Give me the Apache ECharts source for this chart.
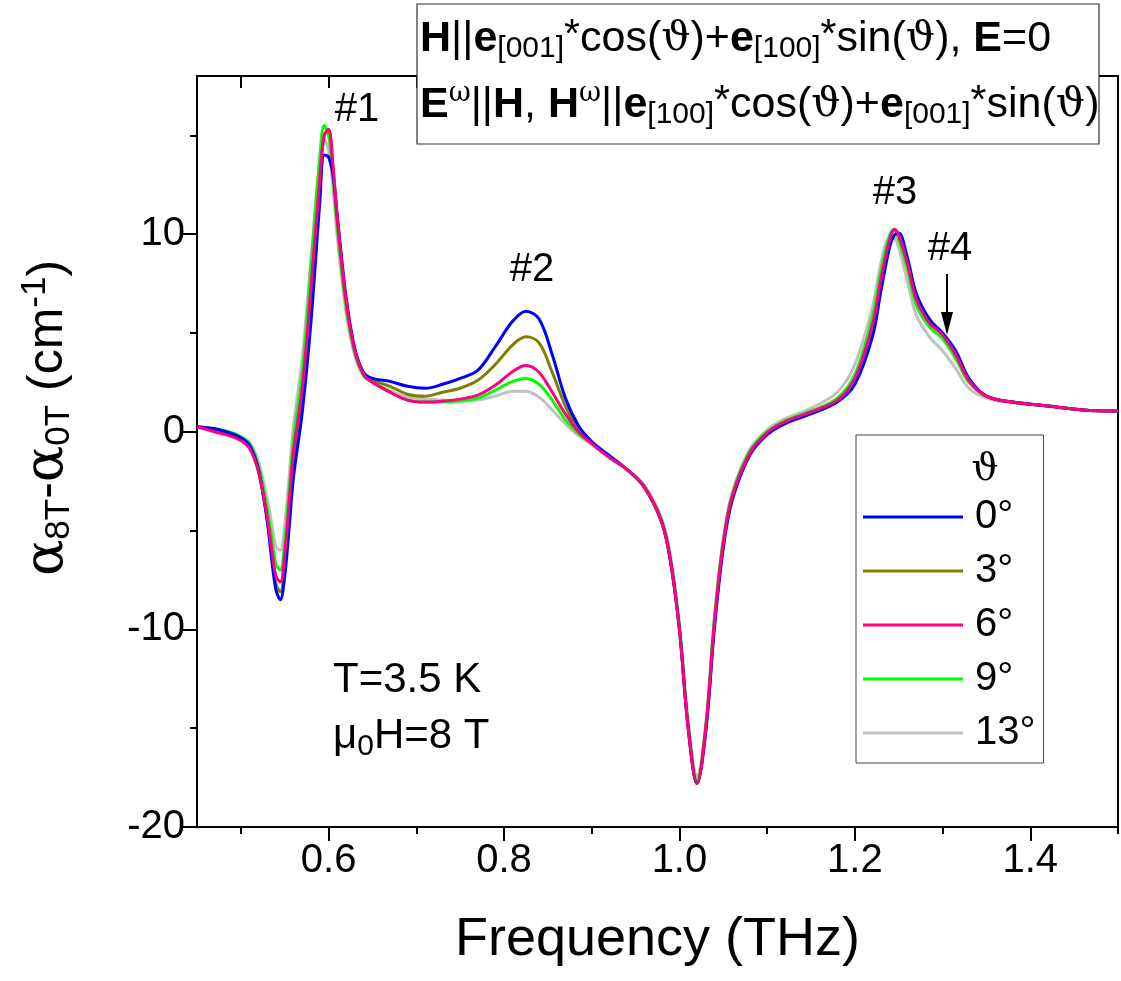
<!DOCTYPE html>
<html>
<head>
<meta charset="utf-8">
<script src="https://cdn.jsdelivr.net/npm/echarts@6/dist/echarts.min.js"></script>
<style>
html,body{margin:0;padding:0;background:#fff;}
#chart{width:1121px;height:981px;}
</style>
</head>
<body>
<div id="chart"></div>
<script>
// ---------- data ----------
const freq = [0.45,0.47,0.49,0.50,0.51,0.52,0.53,0.535,0.54,0.545,0.55,0.555,0.56,0.57,0.58,0.59,0.595,0.60,0.605,0.61,0.62,0.63,0.64,0.65,0.67,0.69,0.71,0.73,0.75,0.77,0.79,0.81,0.825,0.84,0.855,0.87,0.885,0.90,0.92,0.94,0.96,0.98,0.99,1.00,1.01,1.02,1.03,1.04,1.05,1.06,1.08,1.10,1.12,1.15,1.18,1.20,1.22,1.23,1.24,1.245,1.25,1.26,1.27,1.285,1.30,1.315,1.33,1.35,1.38,1.42,1.46,1.50];

const deg0 = [0.25,0.15,-0.1,-0.3,-0.7,-1.9,-4.5,-6.4,-8.0,-8.5,-7.3,-4.9,-2.3,1.0,5.6,11.6,14.0,13.9,13.0,10.9,6.8,4.2,3.0,2.7,2.55,2.3,2.2,2.4,2.7,3.1,4.3,5.6,6.1,5.7,3.9,1.7,0.3,-0.5,-1.2,-1.9,-2.8,-4.6,-6.6,-10.0,-15.0,-17.8,-15.2,-9.9,-5.9,-3.5,-1.2,-0.15,0.4,0.9,1.5,2.4,4.8,7.2,9.4,9.95,10.05,8.8,7.0,5.7,5.0,4.1,2.7,1.8,1.5,1.3,1.1,1.05];

const deg3 = [0.25,0.05,-0.2,-0.4,-0.8,-2.0,-4.4,-6.1,-7.7,-8.1,-6.7,-4.1,-1.4,1.8,7.0,12.8,15.0,15.2,13.3,10.7,6.6,4.1,2.9,2.6,2.3,1.9,1.8,2.0,2.2,2.6,3.4,4.4,4.8,4.5,3.0,1.3,0.1,-0.55,-1.25,-1.9,-2.8,-4.6,-6.6,-10.0,-15.0,-17.8,-15.1,-9.7,-5.7,-3.4,-1.1,-0.1,0.45,0.95,1.55,2.6,5.2,7.6,9.7,10.2,9.9,8.6,6.8,5.6,4.9,3.9,2.6,1.8,1.5,1.3,1.1,1.05];

const deg6 = [0.25,0.0,-0.25,-0.45,-0.85,-2.0,-4.3,-5.9,-7.3,-7.6,-6.2,-3.6,-1.0,2.2,7.3,12.8,15.0,15.3,13.5,10.8,6.6,4.1,2.9,2.5,2.0,1.6,1.5,1.55,1.65,1.85,2.35,3.05,3.35,3.0,2.0,0.9,0.0,-0.6,-1.3,-1.9,-2.8,-4.6,-6.6,-10.0,-15.0,-17.8,-15.0,-9.6,-5.6,-3.3,-1.1,-0.05,0.5,1.0,1.6,2.7,5.4,7.8,9.8,10.25,9.95,8.5,6.7,5.5,4.9,3.9,2.6,1.8,1.5,1.3,1.1,1.05];

const deg9 = [0.25,0.15,-0.05,-0.25,-0.6,-1.7,-3.9,-5.3,-6.7,-7.0,-5.6,-3.0,-0.4,3.0,8.4,13.9,15.5,15.0,12.9,10.3,6.3,4.0,2.85,2.5,2.0,1.6,1.5,1.5,1.55,1.7,2.1,2.55,2.7,2.4,1.6,0.6,-0.1,-0.6,-1.3,-1.9,-2.8,-4.5,-6.5,-9.9,-14.8,-17.6,-14.9,-9.4,-5.5,-3.2,-1.0,0.0,0.55,1.05,1.7,2.9,5.8,8.2,10.0,10.25,9.7,8.2,6.4,5.3,4.7,3.7,2.5,1.8,1.5,1.3,1.1,1.05];

const deg13 = [0.25,0.1,-0.1,-0.25,-0.55,-1.5,-3.4,-4.6,-5.8,-6.0,-4.7,-2.3,0.3,3.7,8.8,13.7,14.8,14.2,12.3,9.8,6.0,3.8,2.8,2.5,2.1,1.75,1.65,1.6,1.55,1.6,1.8,2.05,2.05,1.75,1.1,0.4,-0.2,-0.65,-1.3,-1.9,-2.7,-4.4,-6.3,-9.7,-14.6,-17.4,-14.8,-9.3,-5.4,-3.1,-0.9,0.1,0.65,1.2,2.0,3.4,6.3,8.6,9.85,9.8,9.3,7.6,5.9,4.8,4.1,3.2,2.2,1.7,1.45,1.3,1.1,1.05];

const legendNames = ['0°','3°','6°','9°','13°'];
const xMajorTicks = [0.6,0.8,1.0,1.2,1.4];
const xMinorTicks = [0.5,0.7,0.9,1.1,1.3,1.5];
const xTopTicks = [0.5,0.6,0.7,0.8,0.9,1.0,1.1,1.2,1.3,1.4,1.5];
const yMajorTicks = [-20,-10,0,10];
const yMinorTicks = [-15,-5,5,15];

// ---------- chart ----------
const FF = 'Liberation Sans, Arial, sans-serif';
const chart = echarts.init(document.getElementById('chart'), null, {renderer:'canvas'});
const pairs = v => freq.map((f,i)=>[f, v[i]]);

// draw order: gray, green, olive, blue, pink (pink on top)
const seriesDefs = [
  {name:'13°', data:deg13, color:'#C0C0C0'},
  {name:'9°',  data:deg9,  color:'#00FF00'},
  {name:'3°',  data:deg3,  color:'#808000'},
  {name:'0°',  data:deg0,  color:'#0000FF'},
  {name:'6°',  data:deg6,  color:'#FF0080'}
];

const black = '#000';
const boxRich = {
  n:{fontSize:43, fontFamily:FF, fill:black},
  b:{fontSize:43, fontWeight:'bold', fontFamily:FF, fill:black},
  sub:{fontSize:30, fontFamily:FF, fill:black, padding:[20,0,0,0]},
  sup:{fontSize:41, fontFamily:FF, fill:black, padding:[0,0,6,0]},
  w:{fontSize:27, fontFamily:'DejaVu Serif', fill:black, padding:[0,0,22,0]},
  t:{fontSize:41, fontFamily:'DejaVu Serif', fill:black}
};
const option = {
  animation:false,
  backgroundColor:'#fff',
  textStyle:{fontFamily:FF},
  grid:{left:197, right:3, top:76, bottom:154, containLabel:false, outerBoundsMode:'none'},
  xAxis:[
    {type:'value', position:'bottom', min:0.45, max:1.5,
     axisLine:{show:true, onZero:false, lineStyle:{color:black, width:2}},
     axisTick:{show:true, inside:false, length:14, customValues:xMajorTicks, lineStyle:{color:black, width:2}},
     axisLabel:{show:true, customValues:xMajorTicks, fontSize:40, color:black, margin:14, fontFamily:FF,
                formatter:v=>Number(v).toFixed(1)},
     splitLine:{show:false},
     name:'Frequency (THz)', nameLocation:'middle', nameGap:86,
     nameTextStyle:{fontSize:54, color:black, fontFamily:FF}},
    {type:'value', position:'bottom', min:0.45, max:1.5,
     axisLine:{show:false, onZero:false},
     axisTick:{show:true, inside:false, length:7, customValues:xMinorTicks, lineStyle:{color:black, width:2}},
     axisLabel:{show:false}, splitLine:{show:false}},
    {type:'value', position:'top', min:0.45, max:1.5,
     axisLine:{show:true, onZero:false, lineStyle:{color:black, width:2}},
     axisTick:{show:true, inside:true, length:12, customValues:xTopTicks, lineStyle:{color:black, width:2}},
     axisLabel:{show:false}, splitLine:{show:false}}
  ],
  yAxis:[
    {type:'value', position:'left', min:-20, max:18,
     axisLine:{show:true, onZero:false, lineStyle:{color:black, width:2}},
     axisTick:{show:true, inside:false, length:14, customValues:yMajorTicks, lineStyle:{color:black, width:2}},
     axisLabel:{show:true, customValues:yMajorTicks, fontSize:40, color:black, margin:12, fontFamily:FF},
     splitLine:{show:false}},
    {type:'value', position:'left', min:-20, max:18,
     axisLine:{show:false, onZero:false},
     axisTick:{show:true, inside:false, length:7, customValues:yMinorTicks, lineStyle:{color:black, width:2}},
     axisLabel:{show:false}, splitLine:{show:false}},
    {type:'value', position:'right', min:-20, max:18,
     axisLine:{show:true, onZero:false, lineStyle:{color:black, width:2}},
     axisTick:{show:false}, axisLabel:{show:false}, splitLine:{show:false}}
  ],
  legend:{
    data:legendNames, orient:'vertical', left:856, top:435,
    icon:'rect', itemWidth:100, itemHeight:3, itemGap:14,
    padding:[62,8,10,7],
    borderColor:'#444', borderWidth:1, backgroundColor:'#fff',
    textStyle:{fontSize:40, color:black, fontFamily:FF, padding:[0,0,0,7]},
    selectedMode:false
  },
  series: seriesDefs.map(s=>({
    type:'line', name:s.name, data:pairs(s.data),
    xAxisIndex:0, yAxisIndex:0,
    showSymbol:false, symbol:'none',
    smooth:0.35,
    color:s.color,
    itemStyle:{color:s.color},
    lineStyle:{color:s.color, width:3}
  })),
  graphic:{elements:[
    // top info box
    {type:'rect', z:100, shape:{x:417, y:4, width:682, height:140},
     style:{fill:'#fff', stroke:'#333', lineWidth:1.2}},
    {type:'text', z:101, x:420, y:39,
     style:{
       text:'{b|H}{n|||}{b|e}{sub|[001]}{sup|*}{n|cos(}{t|ϑ}{n|)+}{b|e}{sub|[100]}{sup|*}{n|sin(}{t|ϑ}{n|), }{b|E}{n|=0}',
       verticalAlign:'middle', align:'left', fill:black, fontSize:43, fontFamily:FF, rich:boxRich}},
    {type:'text', z:101, x:420, y:105,
     style:{
       text:'{b|E}{w|ω}{n|||}{b|H}{n|, }{b|H}{w|ω}{n|||}{b|e}{sub|[100]}{sup|*}{n|cos(}{t|ϑ}{n|)+}{b|e}{sub|[001]}{sup|*}{n|sin(}{t|ϑ}{n|)}',
       verticalAlign:'middle', align:'left', fill:black, fontSize:43, fontFamily:FF, rich:boxRich}},
    // peak labels
    {type:'text', z:50, x:357, y:110, style:{text:'#1', fontSize:40, fontFamily:FF, fill:black, align:'center', verticalAlign:'middle'}},
    {type:'text', z:50, x:532, y:270, style:{text:'#2', fontSize:40, fontFamily:FF, fill:black, align:'center', verticalAlign:'middle'}},
    {type:'text', z:50, x:895, y:193, style:{text:'#3', fontSize:40, fontFamily:FF, fill:black, align:'center', verticalAlign:'middle'}},
    {type:'text', z:50, x:950, y:249, style:{text:'#4', fontSize:40, fontFamily:FF, fill:black, align:'center', verticalAlign:'middle'}},
    // arrow for #4
    {type:'line', z:50, shape:{x1:947, y1:274, x2:947, y2:318}, style:{stroke:black, lineWidth:2}},
    {type:'polygon', z:50, shape:{points:[[941,312],[953,312],[947,335]]}, style:{fill:black}},
    // conditions
    {type:'text', z:50, x:333, y:680, style:{text:'T=3.5 K', fontSize:42, fontFamily:FF, fill:black, align:'left', verticalAlign:'middle'}},
    {type:'text', z:50, x:333, y:736,
     style:{text:'{n|μ}{sub|0}{n|H=8 T}', fontSize:42, fontFamily:FF, fill:black, align:'left', verticalAlign:'middle',
       rich:{n:{fontSize:42, fontFamily:FF, fill:black}, sub:{fontSize:30, fontFamily:FF, fill:black, padding:[22,0,0,0]}}}},
    // legend title
    {type:'text', z:100, x:985, y:470, style:{text:'ϑ', fontSize:38, fontFamily:'DejaVu Serif', fill:black, align:'center', verticalAlign:'middle'}},
    // y axis title
    {type:'text', z:50, x:48, y:418, rotation:Math.PI/2,
     style:{text:'{a|α}{s|8T}{n|-}{a|α}{s|0T}{n| (cm}{p|-1}{n|)}', fontSize:50, fontFamily:FF, fill:black,
       align:'center', verticalAlign:'middle',
       rich:{
         a:{fontSize:54, fontFamily:'DejaVu Serif', fill:black},
         n:{fontSize:50, fontFamily:FF, fill:black},
         s:{fontSize:35, fontFamily:FF, fill:black, padding:[22,0,0,0]},
         p:{fontSize:35, fontFamily:FF, fill:black, padding:[0,0,26,0]}
       }}}
  ]}
};
chart.setOption(option);
</script>
</body>
</html>
